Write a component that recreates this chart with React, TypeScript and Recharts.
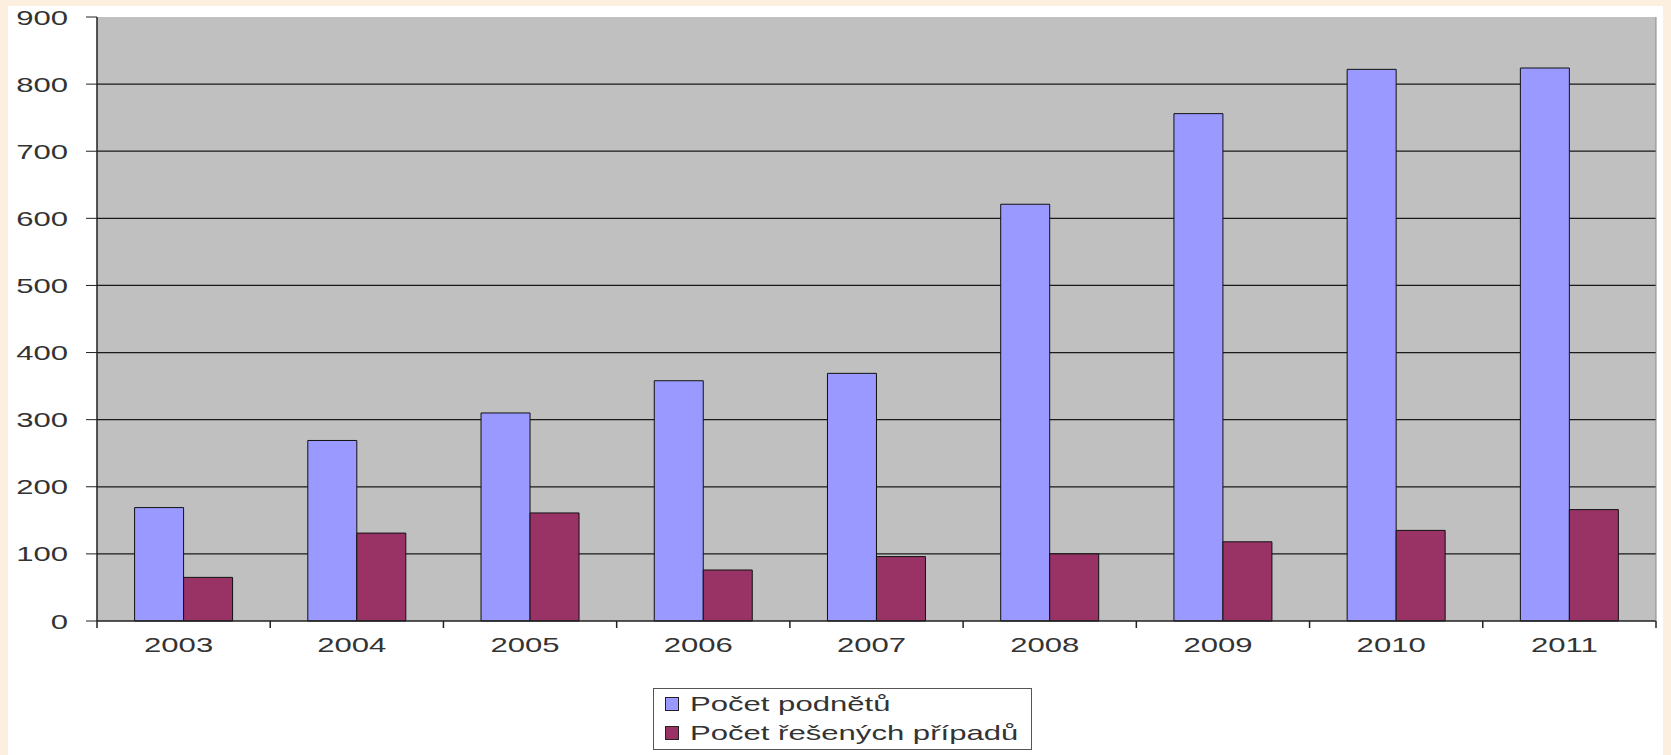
import React from "react";
import {
  BarChart,
  Bar,
  XAxis,
  YAxis,
  CartesianGrid,
  Legend,
} from "recharts";

const years = ["2003", "2004", "2005", "2006", "2007", "2008", "2009", "2010", "2011"];
const podnety = [169, 269, 310, 358, 369, 621, 756, 822, 824];
const reseno = [65, 131, 161, 76, 96, 100, 118, 135, 166];
const yTicks = [0, 100, 200, 300, 400, 500, 600, 700, 800, 900];
const gridValues = [100, 200, 300, 400, 500, 600, 700, 800];

const data = years.map((year, i) => ({
  year,
  podnety: podnety[i],
  reseno: reseno[i],
}));

const FONT = "'Liberation Sans', Arial, sans-serif";
const STRETCH = 1.48;

function YTick({ x, y, payload }: any) {
  return (
    <g transform={`translate(${x},${y})`}>
      <text
        transform={`scale(${STRETCH},1)`}
        textAnchor="end"
        dy="0.36em"
        fontFamily={FONT}
        fontSize={21}
        fill="#333"
      >
        {payload.value}
      </text>
    </g>
  );
}

// category label plus the tick marks on the band edges
function XTick({ x, y, payload, index, visibleTicksCount }: any) {
  const half = payload && typeof payload.offset === "number" ? payload.offset : 0;
  const last = index === visibleTicksCount - 1;
  return (
    <g>
      {half > 0 && (
        <line x1={x - half} x2={x - half} y1={y} y2={y + 7} stroke="#222" strokeWidth={1.5} />
      )}
      {half > 0 && last && (
        <line x1={x + half} x2={x + half} y1={y} y2={y + 7} stroke="#222" strokeWidth={1.5} />
      )}
      <g transform={`translate(${x - 5},${y + 23})`}>
        <text
          transform={`scale(${STRETCH},1)`}
          textAnchor="middle"
          dy="0.36em"
          fontFamily={FONT}
          fontSize={21}
          fill="#333"
        >
          {payload.value}
        </text>
      </g>
    </g>
  );
}

function LegendBox({ payload }: any) {
  return (
    <div
      style={{
        width: 377,
        height: 60,
        border: "1px solid #555",
        background: "#fff",
        position: "relative",
      }}
    >
      {(payload || []).map((p: any, i: number) => (
        <div
          key={p.value}
          style={{
            position: "absolute",
            left: 11,
            top: 15 + i * 29 - 11,
            height: 22,
            display: "flex",
            alignItems: "center",
          }}
        >
          <span
            style={{
              width: 12,
              height: 12,
              background: p.color,
              border: "1px solid #222",
              display: "inline-block",
            }}
          />
          <span
            style={{
              marginLeft: 11,
              fontFamily: FONT,
              fontSize: 21,
              color: "#333",
              whiteSpace: "nowrap",
              transform: `scaleX(${STRETCH})`,
              transformOrigin: "left center",
              lineHeight: "22px",
            }}
          >
            {p.value}
          </span>
        </div>
      ))}
    </div>
  );
}

export default function App() {
  return (
    <div
      style={{
        position: "absolute",
        left: 0,
        top: 0,
        width: 1671,
        height: 755,
        background: "#fcefe0",
        overflow: "hidden",
      }}
    >
      <div
        style={{
          position: "absolute",
          left: 8,
          top: 6,
          width: 1655,
          height: 749,
          background: "#fff",
        }}
      />
      <div style={{ position: "absolute", left: 0, top: 0 }}>
        <BarChart
          width={1671}
          height={755}
          data={data}
          margin={{ top: 17, right: 14, left: 0, bottom: 133 }}
          barCategoryGap="21.7%"
          barGap={0}
        >
          <CartesianGrid
            horizontal
            vertical={false}
            fill="#c0c0c0"
            fillOpacity={1}
            stroke="#1a1a1a"
            strokeWidth={1.2}
            horizontalValues={gridValues}
          />
          <XAxis
            dataKey="year"
            height={1}
            axisLine={{ stroke: "#222", strokeWidth: 1.5 }}
            tickLine={false}
            tickSize={0}
            tickMargin={0}
            tick={<XTick />}
            interval={0}
          />
          <YAxis
            domain={[0, 900]}
            ticks={yTicks}
            width={97}
            axisLine={{ stroke: "#222", strokeWidth: 1.5 }}
            tickLine={{ stroke: "#222" }}
            tickSize={11}
            tickMargin={18}
            tick={<YTick />}
            interval={0}
          />
          <YAxis
            yAxisId="border"
            orientation="right"
            domain={[0, 900]}
            allowDataOverflow
            width={1}
            tick={false}
            tickLine={false}
            axisLine={{ stroke: "#8a8a8a" }}
          />
          <Legend
            layout="vertical"
            align="center"
            verticalAlign="middle"
            wrapperStyle={{ left: 653, top: 688, width: 379 }}
            content={<LegendBox />}
          />
          <Bar
            dataKey="podnety"
            name="Počet podnětů"
            fill="#9999ff"
            stroke="#111"
            strokeWidth={1}
            isAnimationActive={false}
          />
          <Bar
            dataKey="reseno"
            name="Počet řešených případů"
            fill="#993366"
            stroke="#111"
            strokeWidth={1}
            isAnimationActive={false}
          />
        </BarChart>
      </div>
    </div>
  );
}
